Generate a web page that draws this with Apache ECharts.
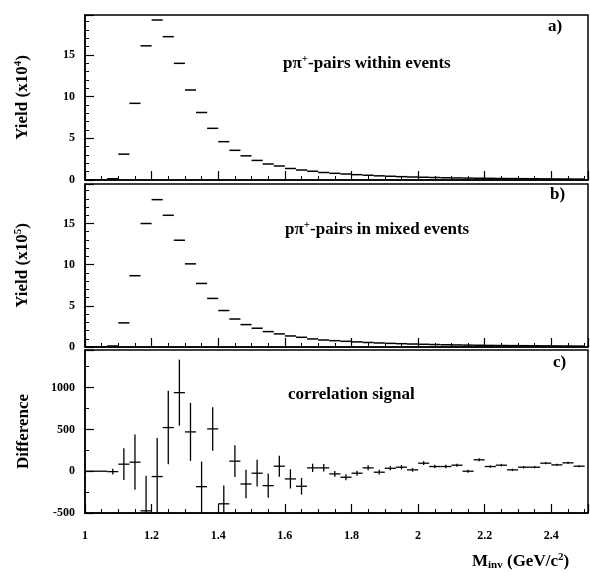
<!DOCTYPE html>
<html>
<head>
<meta charset="utf-8">
<script src="https://cdn.jsdelivr.net/npm/echarts@6/dist/echarts.min.js"></script>
<style>
html, body { margin: 0; background: #fff; }
#main { width: 590px; height: 577px; }
</style>
</head>
<body>
<div id="main"></div>
<script>
// histogram binning: 1/30 GeV bins from 1.0 to 2.5
var binStart = 1.0, binWidth = 1 / 30;

// a) p pi+ pairs within events (x10^4)
var yieldWithin = [0, 0, 0.15, 3.1, 9.2, 16.1, 19.2, 17.2, 14.0, 10.8,
	8.1, 6.2, 4.6, 3.56, 2.9, 2.35, 1.92, 1.68, 1.38, 1.2,
	1.05, 0.9, 0.8, 0.72, 0.64, 0.57, 0.5, 0.45, 0.4, 0.36,
	0.33, 0.3, 0.27, 0.25, 0.23, 0.21, 0.2, 0.18, 0.17, 0.16,
	0.15, 0.14, 0.13, 0.12, 0.11];

// b) p pi+ pairs in mixed events (x10^5)
var yieldMixed = [0, 0, 0.12, 2.93, 8.66, 15.0, 17.9, 16.0, 12.97, 10.1,
	7.72, 5.9, 4.43, 3.4, 2.72, 2.28, 1.87, 1.59, 1.34, 1.18,
	0.98, 0.85, 0.77, 0.69, 0.62, 0.55, 0.49, 0.44, 0.4, 0.36,
	0.33, 0.3, 0.27, 0.25, 0.23, 0.21, 0.19, 0.18, 0.17, 0.16,
	0.15, 0.14, 0.13, 0.12, 0.11];

// c) correlation signal and its errors
var diffValues = [0, 0, -5, 84, 108, -474, -64, 522, 940, 470,
	-185, 506, -390, 120, -153, -24, -173, 60, -92, -180,
	40, 40, -32, -72, -24, 40, -12, 35, 48, 16,
	96, 56, 56, 72, 0, 136, 56, 72, 16, 48,
	48, 96, 76, 100, 60];
var diffErrors = [0, 0, 35, 190, 330, 420, 460, 440, 395, 347,
	300, 260, 220, 190, 170, 160, 145, 125, 115, 100,
	50, 45, 35, 35, 30, 30, 28, 25, 25, 22,
	22, 20, 20, 18, 18, 18, 16, 16, 15, 15,
	14, 14, 13, 13, 12];

var massTicks = { min: 1, max: 2.51, interval: 0.2 };

function binCenter(i) {
	return binStart + binWidth * (i + 0.5);
}
function histData(vals) {
	return vals.map(function(v, i) { return [binCenter(i), v]; });
}
function crossData(vals, errs) {
	return vals.map(function(v, i) { return [binCenter(i), v, errs[i]]; });
}

var ink = '#000';
var serif = '"Liberation Serif", "DejaVu Serif", serif';

function stepItem(params, api) {
	var x = api.value(0), y = api.value(1);
	var p1 = api.coord([x - binWidth / 2, y]);
	var p2 = api.coord([x + binWidth / 2, y]);
	return {
		type: 'line',
		shape: { x1: p1[0], y1: p1[1], x2: p2[0], y2: p2[1] },
		style: { stroke: ink, lineWidth: 1.5 }
	};
}
function crossItem(params, api) {
	var x = api.value(0), y = api.value(1), e = api.value(2);
	var a = api.coord([x - binWidth / 2, y]);
	var b = api.coord([x + binWidth / 2, y]);
	var t = api.coord([x, y + e]);
	var u = api.coord([x, y - e]);
	return {
		type: 'group',
		children: [{
			type: 'line',
			shape: { x1: a[0], y1: a[1], x2: b[0], y2: b[1] },
			style: { stroke: ink, lineWidth: 1.3 }
		}, {
			type: 'line',
			shape: { x1: t[0], y1: t[1], x2: u[0], y2: u[1] },
			style: { stroke: ink, lineWidth: 1.3 }
		}]
	};
}

function xAxisFor(idx, showLabels) {
	return {
		type: 'value',
		gridIndex: idx,
		min: massTicks.min,
		max: massTicks.max,
		interval: massTicks.interval,
		axisLine: { onZero: false, lineStyle: { color: ink, width: 1.5 } },
		axisTick: { inside: true, length: 9, lineStyle: { color: ink, width: 1.2 } },
		minorTick: { show: true, splitNumber: 4, length: 4, lineStyle: { color: ink, width: 1 } },
		splitLine: { show: false },
		axisLabel: {
			show: showLabels, margin: 17, color: ink, showMaxLabel: false,
			fontFamily: serif, fontWeight: 'bold', fontSize: 12,
			formatter: function(v) { return String(v); }
		}
	};
}
var nameRich = {
	n: { fontFamily: serif, fontWeight: 'bold', fontSize: 17, color: ink },
	s: { fontFamily: serif, fontWeight: 'bold', fontSize: 11, color: ink, verticalAlign: 'top', padding: [0, 0, 8, 0] }
};
function yAxisFor(idx, min, max, interval, minorSplit, name) {
	return {
		type: 'value',
		gridIndex: idx,
		min: min,
		max: max,
		interval: interval,
		axisLine: { onZero: false, lineStyle: { color: ink, width: 1.5 } },
		axisTick: { inside: true, length: 9, lineStyle: { color: ink, width: 1.2 } },
		minorTick: { show: true, splitNumber: minorSplit, length: 4, lineStyle: { color: ink, width: 1 } },
		splitLine: { show: false },
		axisLabel: {
			margin: 10, color: ink, fontFamily: serif, fontWeight: 'bold', fontSize: 12,
			showMaxLabel: false,
			formatter: function(v) { return String(v); }
		},
		name: name,
		nameLocation: 'middle',
		nameRotate: 90,
		nameGap: 53,
		nameTextStyle: { rich: nameRich }
	};
}

var gridBox = {
	left: 85, right: 2, show: true, borderColor: ink, borderWidth: 1.5,
	backgroundColor: 'transparent', outerBoundsMode: 'none', containLabel: false
};

var titleRich = {
	n: { fontFamily: serif, fontWeight: 'bold', fontSize: 17, fill: ink },
	s: { fontFamily: serif, fontWeight: 'bold', fontSize: 11, fill: ink, verticalAlign: 'top', padding: [0, 0, 8, 0] },
	b: { fontFamily: serif, fontWeight: 'bold', fontSize: 11, fill: ink, verticalAlign: 'bottom', padding: [6, 0, 0, 0] }
};
function label(x, y, text) {
	return {
		type: 'text', left: x, top: y,
		style: { text: text, rich: titleRich, fill: ink, font: 'bold 17px ' + serif }
	};
}

var myChart = echarts.init(document.getElementById('main'), null, { renderer: 'canvas' });
var option = {
	backgroundColor: '#fff',
	animation: false,
	grid: [
		Object.assign({ top: 15, height: 165 }, gridBox),
		Object.assign({ top: 184, height: 163 }, gridBox),
		Object.assign({ top: 350, height: 163 }, gridBox)
	],
	xAxis: [xAxisFor(0, false), xAxisFor(1, false), xAxisFor(2, true)],
	yAxis: [
		yAxisFor(0, 0, 19.8, 5, 5, '{n|Yield (x10}{s|4}{n|)}'),
		yAxisFor(1, 0, 19.8, 5, 5, '{n|Yield (x10}{s|5}{n|)}'),
		yAxisFor(2, -500, 1450, 500, 2, '{n|Difference}')
	],
	series: [{
		type: 'custom', xAxisIndex: 0, yAxisIndex: 0, clip: true,
		renderItem: stepItem, data: histData(yieldWithin)
	}, {
		type: 'custom', xAxisIndex: 1, yAxisIndex: 1, clip: true,
		renderItem: stepItem, data: histData(yieldMixed)
	}, {
		type: 'custom', xAxisIndex: 2, yAxisIndex: 2, clip: true,
		renderItem: crossItem, data: crossData(diffValues, diffErrors)
	}],
	graphic: [
		label(283, 54, '{n|pπ}{s|+}{n|-pairs within events}'),
		label(285, 220, '{n|pπ}{s|+}{n|-pairs in mixed events}'),
		label(288, 386, '{n|correlation signal}'),
		label(548, 18, '{n|a)}'),
		label(550, 186, '{n|b)}'),
		label(553, 354, '{n|c)}'),
		label(472, 552, '{n|M}{b|inv}{n| (GeV/c}{s|2}{n|)}')
	]
};
myChart.setOption(option);
</script>
</body>
</html>
